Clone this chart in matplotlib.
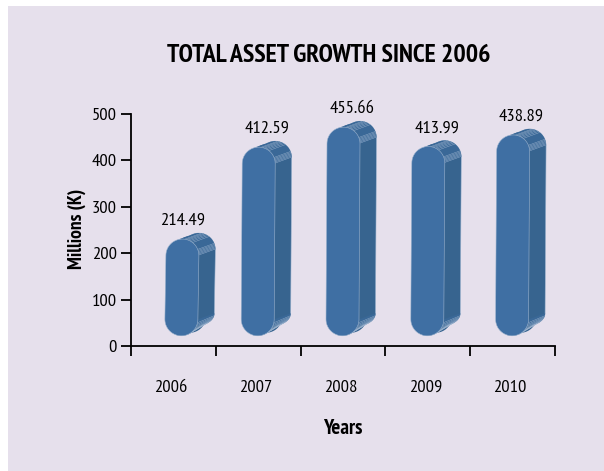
import matplotlib
matplotlib.use('Agg')
import matplotlib.pyplot as plt
from matplotlib.patches import Polygon, Rectangle
import numpy as np

years = ['2006', '2007', '2008', '2009', '2010']
values = [214.49, 412.59, 455.66, 413.99, 438.89]
y_ticks = [0, 100, 200, 300, 400, 500]

FRONT = '#3f6fa3'
SIDE = '#37648f'
CAP = '#3a6897'
LINE = '#9db4cf'
BG = '#e6e0ec'

plt.rcParams['font.family'] = ['PT Sans Narrow', 'Fira Sans Condensed', 'Liberation Sans', 'DejaVu Sans']

fig = plt.figure(figsize=(6.04, 4.71), dpi=100, facecolor='white')
fig.add_artist(Rectangle((8 / 604, 0), 596 / 604, 465 / 471, transform=fig.transFigure,
                         facecolor=BG, edgecolor='none', zorder=-1))
ax = fig.add_axes([131 / 604, 125 / 471, 424 / 604, 232 / 471])
ax.patch.set_alpha(0)
ax.set_xlim(-0.5, 4.5)
ax.set_ylim(0, 500)

# size of one pixel in data units
px = 5 / 424
py = 500 / 232

HALF_W = 16.5 * px
RAD_Y = 16.5 * py
DX = 16.5 * px
DY = 6 * py
BOTTOM = 22
SQUASH = 0.72  # back edge of the lower rounding is flatter


def arc(xc, yc, a0, a1, n=30, sy=1.0):
    t = np.radians(np.linspace(a0, a1, n))
    return xc + HALF_W * np.cos(t), yc + sy * RAD_Y * np.sin(t)


def pill(xc, top, bottom=BOTTOM, sy=1.0):
    x1, y1 = arc(xc + 0.5 * px, top - RAD_Y, 0, 180)
    x2, y2 = arc(xc - 0.5 * px, bottom + RAD_Y, 180, 360, sy=sy)
    return np.column_stack([np.r_[x1, x2], np.r_[y1, y2]])


for i, v in enumerate(values):
    # first bar sits a bit to the right of its slot in the original
    xc = i + (0.1 if i == 0 else 0)
    top = v + 16

    # depth of the bar
    back = pill(xc + DX, top + DY, BOTTOM + DY, SQUASH)
    ax.add_patch(Polygon(back, closed=True, fc=SIDE, ec=LINE, lw=0.4, zorder=2))
    ax.add_patch(Polygon(pill(xc + DX / 2, top + DY / 2, BOTTOM + DY / 2), closed=True,
                         fc=SIDE, ec='none', zorder=2))

    # rounded top and bottom facets
    xa, ya = arc(xc + 0.5 * px, top - RAD_Y, 0, 110)
    xb, yb = arc(xc + 0.5 * px + DX, top - RAD_Y + DY, 0, 110)
    ax.add_patch(Polygon(np.column_stack([np.r_[xa, xb[::-1]], np.r_[ya, yb[::-1]]]),
                         closed=True, fc=CAP, ec='none', zorder=3))
    xa, ya = arc(xc - 0.5 * px, BOTTOM + RAD_Y, -110, 0)
    xb, yb = arc(xc - 0.5 * px + DX, BOTTOM + RAD_Y + DY, -110, 0, sy=SQUASH)
    ax.add_patch(Polygon(np.column_stack([np.r_[xa, xb[::-1]], np.r_[ya, yb[::-1]]]),
                         closed=True, fc=CAP, ec='none', zorder=3))

    # fine lines on the facets
    for a in [2, 6, 10, 14, 18, 22, 52, 58, 64, 70, 76, 82]:
        xa, ya = arc(xc + 0.5 * px, top - RAD_Y, a, a, 1)
        ax.plot([xa[0], xa[0] + DX], [ya[0], ya[0] + DY], color=LINE, lw=0.3, zorder=4,
                solid_capstyle='butt')
    for a in [-12, -18, -24, -30, -36, -42, -48, -54, -60, -66, -72]:
        xa, ya = arc(xc - 0.5 * px, BOTTOM + RAD_Y, a, a, 1)
        xb, yb = arc(xc - 0.5 * px + DX, BOTTOM + RAD_Y + DY, a, a, 1, sy=SQUASH)
        ax.plot([xa[0], xb[0]], [ya[0], yb[0]], color=LINE, lw=0.3, zorder=4,
                solid_capstyle='butt')

    ax.add_patch(Polygon(pill(xc, top), closed=True, fc=FRONT, ec=LINE, lw=0.4, zorder=5))
    ax.text(i + 0.105, v + 38, f'{v:.2f}', ha='center', va='bottom', fontsize=13.3, color='black')

for s in ['top', 'right']:
    ax.spines[s].set_visible(False)
for s in ['left', 'bottom']:
    ax.spines[s].set_linewidth(1.3)

ax.set_yticks(y_ticks)
ax.tick_params(axis='y', length=7, width=1.3, labelsize=13.3, pad=3)
ax.set_xticks(np.arange(-0.5, 5, 1))
ax.set_xticklabels([])
ax.tick_params(axis='x', length=7, width=1.3)

for i, y in enumerate(years):
    ax.text(i - 0.03, -90, y, ha='center', va='center', fontsize=13.3)

fig.text(329 / 604, 1 - 56 / 471, 'TOTAL ASSET GROWTH SINCE 2006', ha='center', va='center',
         fontsize=18.6, fontweight='bold')
fig.text(77 / 604, 1 - 229 / 471, 'Millions (K)', rotation=90, ha='center', va='center',
         fontsize=14, fontweight='bold')
fig.text(343 / 604, 1 - 428 / 471, 'Years', ha='center', va='center', fontsize=15, fontweight='bold')

fig.savefig('out.png', dpi=100)
